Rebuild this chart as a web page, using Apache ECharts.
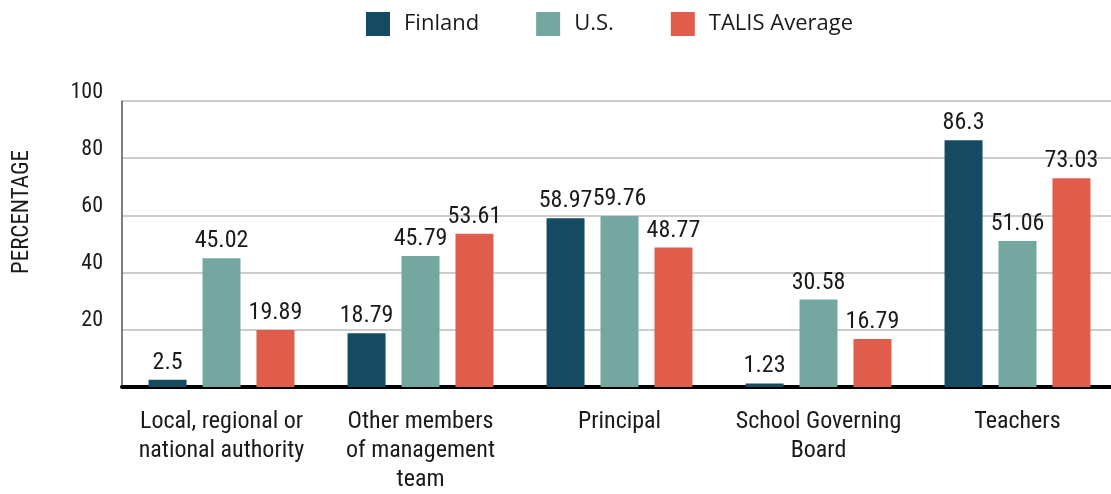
<!DOCTYPE html>
<html>
<head>
<meta charset="utf-8">
<script src="https://cdn.jsdelivr.net/npm/echarts@6/dist/echarts.min.js"></script>
<style>
  html, body { margin: 0; padding: 0; background: #fff; overflow: hidden; }
  #chart { width: 1117px; height: 494px; }
</style>
</head>
<body>
<div id="chart"></div>
<script>
  var categories = [
    'Local, regional or\nnational authority',
    'Other members\nof management\nteam',
    'Principal',
    'School Governing\nBoard',
    'Teachers'
  ];
  var finland = [2.5, 18.79, 58.97, 1.23, 86.3];
  var us = [45.02, 45.79, 59.76, 30.58, 51.06];
  var talis = [19.89, 53.61, 48.77, 16.79, 73.03];
  var yTicks = [20, 40, 60, 80, 100];

  var labelFont = '"Roboto Condensed", "DejaVu Sans Condensed", sans-serif';

  var chart = echarts.init(document.getElementById('chart'));

  function barSeries (name, data, color) {
    return {
      name: name,
      type: 'bar',
      data: data,
      barWidth: 38,
      barGap: '42%',
      itemStyle: { color: color },
      label: {
        show: true,
        position: 'top',
        distance: 5,
        color: '#1a1a1a',
        fontSize: 24,
        fontFamily: labelFont
      }
    }
  }

  var option = {
    animation: false,
    legend: {
      top: 7,
      left: 361,
      itemWidth: 24,
      itemHeight: 24,
      itemGap: 57,
      icon: 'rect',
      textStyle: {
        fontSize: 22,
        color: '#1a1a1a',
        fontFamily: '"Open Sans", sans-serif',
        padding: [0, 0, 0, 9]
      },
      data: ['Finland', 'U.S.', 'TALIS Average']
    },
    graphic: [{
      type: 'text',
      left: 11,
      top: 150,
      rotation: Math.PI / 2,
      style: {
        text: 'PERCENTAGE',
        fill: '#1a1a1a',
        fontSize: 23,
        fontFamily: labelFont
      }
    }],
    grid: {
      left: 122,
      right: 0,
      top: 101,
      bottom: 105,
      containLabel: false
    },
    xAxis: {
      type: 'category',
      data: categories,
      axisLine: { show: true, onZero: false, lineStyle: { color: '#000', width: 4 } },
      axisTick: { show: false },
      axisLabel: {
        margin: 20,
        interval: 0,
        color: '#1a1a1a',
        fontSize: 24,
        lineHeight: 29,
        fontFamily: labelFont
      }
    },
    yAxis: {
      type: 'value',
      min: 0,
      max: 100,
      interval: 20,
      axisLine: { show: true, lineStyle: { color: '#555', width: 1.5 } },
      axisTick: { show: false },
      splitLine: { show: true, lineStyle: { color: '#bbb', width: 1.5 } },
      axisLabel: {
        margin: 19,
        color: '#1a1a1a',
        fontSize: 22,
        lineHeight: 18,
        fontFamily: labelFont,
        verticalAlign: 'bottom',
        formatter: function (v) { return yTicks.indexOf(v) >= 0 ? String(v) : ''; }
      }
    },
    series: [
      barSeries('Finland', finland, '#144b63'),
      barSeries('U.S.', us, '#73a7a0'),
      barSeries('TALIS Average', talis, '#e05c4b')
    ]
  };

  chart.setOption(option);
</script>
</body>
</html>
